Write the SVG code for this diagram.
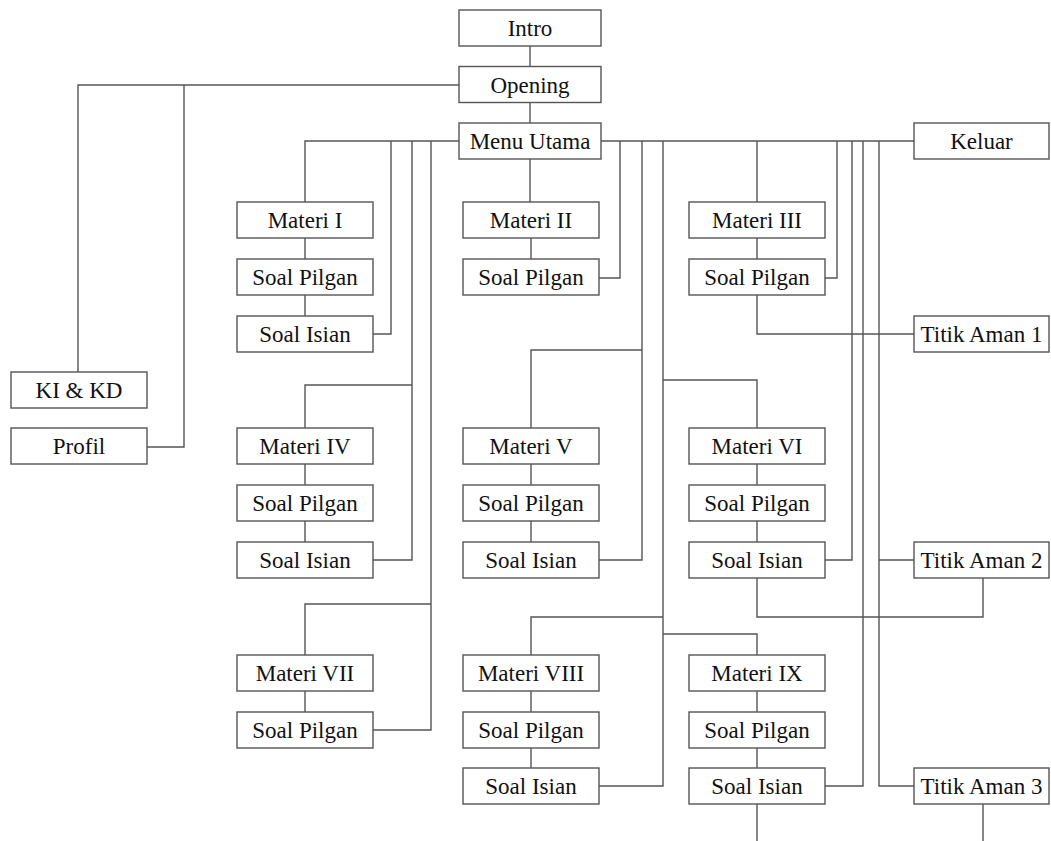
<svg xmlns="http://www.w3.org/2000/svg" width="1051" height="841" viewBox="0 0 1051 841">
<style>
.b rect{fill:#fff;stroke:#555;stroke-width:1.4}
.b text{font-family:"Liberation Serif","Times New Roman",serif;font-size:23px;fill:#111;text-anchor:middle}
#connectors path{fill:none;stroke:#555;stroke-width:1.4}
</style>
<rect width="1051" height="841" fill="#fff"/>
<g id="connectors">
<path d="M530 46V66.5M530 102.5V123"/>
<path d="M459 85H78V372M184 85V447H147"/>
<path d="M459 141H305V202M305 238V259M305 295V316"/>
<path d="M391 141V334H373"/>
<path d="M412 141V560H373M412 385H305V428M305 464V485M305 521V542"/>
<path d="M431 141V730H373M431 604H305V655M305 691V712"/>
<path d="M530 159V202M531 238V259"/>
<path d="M601 141H914"/>
<path d="M620 141V278H599"/>
<path d="M642 141V560H599M642 350H531V428M531 464V485M531 521V542"/>
<path d="M663 141V786H599M663 380H757V428M663 617H531V655M663 634H757V655"/>
<path d="M757 464V485M757 521V542M757 578V617H983V578"/>
<path d="M531 691V712M531 748V768M757 691V712M757 748V768"/>
<path d="M757 141V202M757 238V259M757 295V334H914"/>
<path d="M837 141V278H825"/>
<path d="M852 141V560H825"/>
<path d="M863 141V786H825"/>
<path d="M879 141V786H914M879 560H914"/>
<path d="M757 804V841M983 804V841"/>
</g>
<g id="intro" class="b"><rect x="459" y="10" width="142" height="36"/><text x="530" y="36">Intro</text></g>
<g id="opening" class="b"><rect x="459" y="66.5" width="142" height="36"/><text x="530" y="92.5">Opening</text></g>
<g id="menu" class="b"><rect x="459" y="123" width="142" height="36"/><text x="530" y="149">Menu Utama</text></g>
<g id="keluar" class="b"><rect x="914" y="123" width="135" height="36"/><text x="981.5" y="149">Keluar</text></g>
<g id="m1" class="b"><rect x="237" y="202" width="136" height="36"/><text x="305" y="228">Materi I</text></g>
<g id="m1p" class="b"><rect x="237" y="259" width="136" height="36"/><text x="305" y="285">Soal Pilgan</text></g>
<g id="m1i" class="b"><rect x="237" y="316" width="136" height="36"/><text x="305" y="342">Soal Isian</text></g>
<g id="m2" class="b"><rect x="463" y="202" width="136" height="36"/><text x="531" y="228">Materi II</text></g>
<g id="m2p" class="b"><rect x="463" y="259" width="136" height="36"/><text x="531" y="285">Soal Pilgan</text></g>
<g id="m3" class="b"><rect x="689" y="202" width="136" height="36"/><text x="757" y="228">Materi III</text></g>
<g id="m3p" class="b"><rect x="689" y="259" width="136" height="36"/><text x="757" y="285">Soal Pilgan</text></g>
<g id="ta1" class="b"><rect x="914" y="316" width="135" height="36"/><text x="981.5" y="342">Titik Aman 1</text></g>
<g id="kikd" class="b"><rect x="11" y="372" width="136" height="36"/><text x="79" y="398">KI &amp; KD</text></g>
<g id="profil" class="b"><rect x="11" y="428" width="136" height="36"/><text x="79" y="454">Profil</text></g>
<g id="m4" class="b"><rect x="237" y="428" width="136" height="36"/><text x="305" y="454">Materi IV</text></g>
<g id="m4p" class="b"><rect x="237" y="485" width="136" height="36"/><text x="305" y="511">Soal Pilgan</text></g>
<g id="m4i" class="b"><rect x="237" y="542" width="136" height="36"/><text x="305" y="568">Soal Isian</text></g>
<g id="m5" class="b"><rect x="463" y="428" width="136" height="36"/><text x="531" y="454">Materi V</text></g>
<g id="m5p" class="b"><rect x="463" y="485" width="136" height="36"/><text x="531" y="511">Soal Pilgan</text></g>
<g id="m5i" class="b"><rect x="463" y="542" width="136" height="36"/><text x="531" y="568">Soal Isian</text></g>
<g id="m6" class="b"><rect x="689" y="428" width="136" height="36"/><text x="757" y="454">Materi VI</text></g>
<g id="m6p" class="b"><rect x="689" y="485" width="136" height="36"/><text x="757" y="511">Soal Pilgan</text></g>
<g id="m6i" class="b"><rect x="689" y="542" width="136" height="36"/><text x="757" y="568">Soal Isian</text></g>
<g id="ta2" class="b"><rect x="914" y="542" width="135" height="36"/><text x="981.5" y="568">Titik Aman 2</text></g>
<g id="m7" class="b"><rect x="237" y="655" width="136" height="36"/><text x="305" y="681">Materi VII</text></g>
<g id="m7p" class="b"><rect x="237" y="712" width="136" height="36"/><text x="305" y="738">Soal Pilgan</text></g>
<g id="m8" class="b"><rect x="463" y="655" width="136" height="36"/><text x="531" y="681">Materi VIII</text></g>
<g id="m8p" class="b"><rect x="463" y="712" width="136" height="36"/><text x="531" y="738">Soal Pilgan</text></g>
<g id="m8i" class="b"><rect x="463" y="768" width="136" height="36"/><text x="531" y="794">Soal Isian</text></g>
<g id="m9" class="b"><rect x="689" y="655" width="136" height="36"/><text x="757" y="681">Materi IX</text></g>
<g id="m9p" class="b"><rect x="689" y="712" width="136" height="36"/><text x="757" y="738">Soal Pilgan</text></g>
<g id="m9i" class="b"><rect x="689" y="768" width="136" height="36"/><text x="757" y="794">Soal Isian</text></g>
<g id="ta3" class="b"><rect x="914" y="768" width="135" height="36"/><text x="981.5" y="794">Titik Aman 3</text></g>
</svg>
